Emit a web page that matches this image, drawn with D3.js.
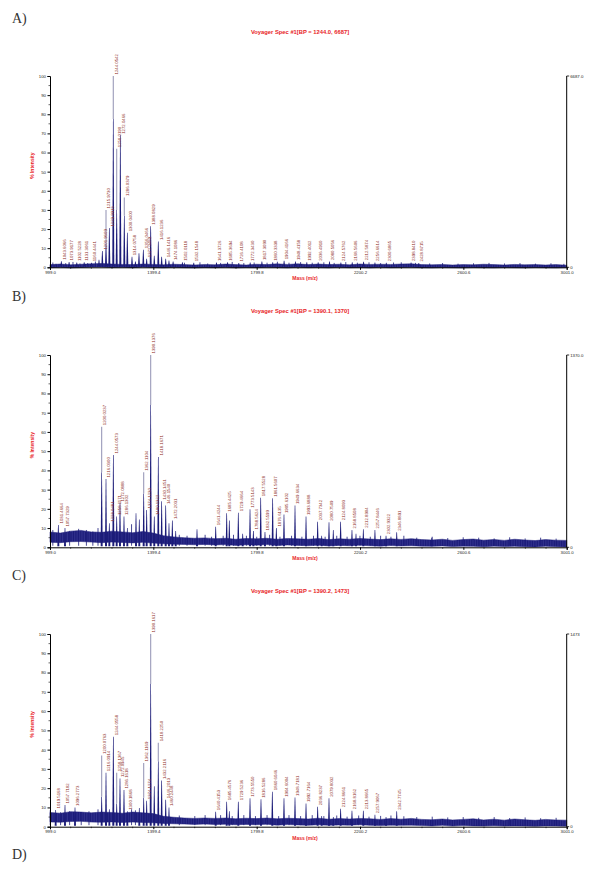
<!DOCTYPE html>
<html><head><meta charset="utf-8">
<script src="https://cdn.jsdelivr.net/npm/d3@7"></script>
<style>body{margin:0;background:#fff}svg{display:block}</style>
</head><body><svg id="c" width="605" height="870"></svg>
<script>
// ---------------- data ----------------
const panelLetters = ["A)", "B)", "C)", "D)"];
const titles = ["Voyager Spec #1[BP = 1244.0, 6687]", "Voyager Spec #1[BP = 1390.1, 1370]", "Voyager Spec #1[BP = 1390.2, 1473]"];
const baseCounts = ["6687.0", "1370.0", "1473"];
const xTickValues = [999.0, 1399.4, 1799.8, 2200.2, 2600.6, 3001.0];
const yTickValues = [0, 10, 20, 30, 40, 50, 60, 70, 80, 90, 100];
const xAxisTitle = "Mass (m/z)";
const yAxisTitle = "% Intensity";

// baseline noise envelope (m/z grid, % intensity)
const noiseMz = [999,1039,1079,1119,1159,1199,1239,1279,1319,1359,1399,1439,1479,1519,1559,1599,1639,1679,1719,1759,1799,1839,1879,1919,1959,1999,2039,2079,2119,2159,2199,2239,2279,2319,2359,2399,2439,2479,2519,2559,2599,2639,2679,2719,2759,2799,2839,2879,2919,2959,3001];
const noiseHiA = [1.4,1.7,1.3,1.6,1.8,2.0,1.7,1.5,1.4,1.7,1.5,1.3,1.6,1.4,1.2,1.5,1.3,1.7,1.4,1.2,1.6,1.4,1.8,1.5,1.8,1.4,1.7,1.4,1.6,1.3,1.7,1.5,1.6,1.5,1.7,1.8,1.4,1.3,1.5,1.2,1.4,1.3,1.6,1.4,1.2,1.5,1.3,1.4,1.2,1.4,1.1];
const noiseLoA = [-0.2,0.0,-0.3,-0.1,0.1,0.2,-0.1,0.0,-0.2,0.1,-0.1,-0.3,0.0,-0.2,-0.3,-0.1,-0.2,0.0,-0.3,-0.1,-0.2,0.0,-0.1,-0.3,0.0,-0.2,-0.1,-0.3,0.0,-0.2,-0.1,-0.3,0.0,-0.2,-0.1,0.0,-0.2,-0.3,-0.1,-0.2,-0.3,-0.1,-0.2,-0.3,-0.1,-0.2,-0.3,-0.1,-0.2,-0.3,-0.1];
const noiseHiB = [8.0,7.4,8.4,8.8,8.0,7.8,8.4,8.0,7.6,8.2,7.4,6.0,5.4,5.0,4.7,4.9,4.5,4.7,4.2,4.6,4.4,4.7,4.2,4.6,4.4,4.2,4.6,4.0,4.4,4.2,4.6,4.3,4.0,4.4,4.1,4.5,4.0,3.8,4.2,3.6,4.0,4.3,3.7,4.1,3.6,4.2,3.8,3.5,4.0,3.7,3.6];
const noiseLoB = [2.6,2.4,2.9,3.0,2.7,2.4,2.7,2.5,2.3,2.6,2.2,1.8,1.6,1.5,1.3,1.5,1.2,1.4,1.0,1.3,1.1,1.4,0.9,1.2,1.0,0.8,1.1,0.7,1.0,0.8,1.1,0.8,0.6,0.9,0.7,0.8,0.6,0.5,0.7,0.4,0.6,0.5,0.3,0.6,0.4,0.5,0.3,0.2,0.5,0.3,0.2];
const noiseHiC = [7.4,7.0,7.8,7.6,7.2,7.6,7.4,7.0,7.6,7.2,6.8,5.4,4.9,4.5,4.3,4.5,4.3,4.5,4.1,4.4,4.2,4.5,4.1,4.4,4.2,4.0,4.4,3.9,4.2,4.0,4.3,4.1,3.8,4.2,3.9,4.3,3.8,3.6,4.0,3.5,3.8,4.1,3.5,3.9,3.4,4.0,3.6,3.3,3.8,3.5,3.4];
const noiseLoC = [2.5,2.3,2.7,2.8,2.4,2.3,2.5,2.2,2.4,2.2,2.0,1.7,1.5,1.4,1.2,1.4,1.1,1.3,1.0,1.2,1.0,1.3,0.8,1.1,0.9,0.7,1.0,0.7,0.9,0.8,1.0,0.7,0.6,0.8,0.7,0.8,0.6,0.4,0.7,0.3,0.6,0.4,0.3,0.5,0.3,0.4,0.3,0.2,0.4,0.3,0.2];

// small baseline spikes (m/z, % intensity)
const spikeMzA = [1010,1022,1060,1088,1115,1145,1175,1520,1580,1610,1660,1705,1750,1790,1840,1880,1925,1970,2015,2060,2100,2145,2190,2235,2280,2330,2360,2415,2470,2520,2580,2640,2700,2760,2820,2880,2940,2990];
const spikeIntA = [2.5,1.8,2.2,2.8,2.0,2.2,3.0,2.4,2.6,2.0,2.3,2.8,2.2,2.5,2.4,2.9,2.4,2.7,2.4,2.6,2.3,2.7,2.4,2.6,2.2,2.5,2.6,2.3,2.0,2.2,1.9,2.1,2.3,2.0,2.2,1.9,2.1,1.8];
const spikeMzB = [1010,1075,1110,1140,1165,1185,1315,1500,1530,1600,1625,1670,1710,1760,1800,1850,1890,1935,1975,2020,2065,2110,2150,2200,2240,2280,2320,2370,2420,2480,2540,2600,2660,2720,2780,2840,2900,2960];
const spikeIntB = [9.0,8.5,9.6,9.0,8.2,10.0,12.0,6.5,6.0,6.5,5.5,6.0,6.5,6.0,5.5,6.5,5.5,6.0,5.5,6.0,5.5,6.0,5.5,6.0,5.5,6.0,5.5,6.0,5.0,5.5,4.8,5.2,5.0,4.6,5.2,4.6,5.0,4.5];
const spikeMzC = [1000,1040,1075,1120,1150,1185,1315,1330,1500,1560,1600,1660,1705,1750,1795,1840,1885,1925,1970,2015,2060,2110,2150,2195,2235,2280,2320,2370,2420,2480,2540,2600,2660,2720,2780,2840,2900,2960];
const spikeIntC = [8.5,7.5,8.0,7.6,8.0,9.0,9.0,8.5,5.8,5.5,6.0,6.0,5.5,6.0,5.5,6.0,5.5,6.0,5.5,6.0,5.5,5.8,5.2,5.8,5.2,5.6,5.8,5.4,5.0,5.2,4.8,5.0,4.6,5.0,4.5,4.8,4.4,4.6];

// Panel A peaks
const peakMzA = [1042.9,1073.0,1102.8,1131.5,1160.0,1188.9,1201.8,1216.0,1228.9,1244.2,1257.4,1271.5,1286.9,1298.6,1316.7,1330.0,1343.8,1360.6,1373.5,1389.1,1403.0,1418.6,1431.6,1447.3,1460.0,1476.0,1512.0,1556.0,1644.0,1687.0,1730.5,1774.6,1820.0,1862.0,1906.0,1950.0,1994.0,2038.0,2082.0,2126.0,2170.0,2214.0,2258.0,2302.0,2398.0,2428.0];
const peakIntA = [3.2,2.8,2.5,2.6,2.4,4.0,8.5,30.0,20.5,100,62.0,69.0,36.5,18.0,5.5,3.0,7.3,9.2,4.5,21.5,6.0,13.5,5.5,4.5,3.5,3.0,2.6,2.4,2.5,2.6,2.2,2.5,3.0,2.6,3.4,3.0,2.6,2.6,3.0,2.5,2.6,2.9,2.5,2.4,2.5,2.2];
const peakLabelA = ["1043.6066","1073.9177","1102.5228","1131.3061","1160.4441","","1201.9609","1215.9730","1229.9913","1244.0542","1258.0190","1272.0466","1286.0379","1300.0400","1314.0758","","","1356.0466","1372.0489","1388.0829","","1416.1236","","1446.1416","","1474.1086","1502.0118","1532.1548","1641.3726","1685.3694","1726.4108","1772.3430","1817.3090","1860.3338","1904.4166","1948.4158","1992.4012","2036.4910","2080.5056","2124.5762","2168.5606","2212.5874","2256.6614","2300.6865","2398.8410","2428.8715"];
const lightMzA = [1216.0, 1244.2, 1257.4, 1286.9];
const lightFromA = [13, 77.5, 30, 27];

// Panel B peaks
const peakMzB = [1031.3,1057.1,1199.2,1216.0,1228.9,1244.4,1257.4,1270.2,1285.7,1298.6,1332.2,1345.0,1362.0,1373.5,1389.1,1403.0,1418.6,1431.6,1447.3,1460.0,1473.0,1486.0,1568.6,1641.0,1683.6,1693.8,1728.6,1745.6,1774.0,1787.0,1815.4,1832.0,1861.7,1876.0,1905.6,1948.3,1991.0,2036.0,2051.6,2080.0,2096.6,2125.0,2169.0,2184.6,2213.0,2258.0,2301.0,2342.4,2478.0];
const peakIntB = [11.6,10.0,62.7,35.5,12.5,48.0,16.0,23.0,16.0,10.0,17.7,14.5,39.0,19.4,100,16.0,47.0,24.0,21.7,12.5,14.0,8.5,9.4,10.7,17.7,14.0,18.0,7.0,19.8,8.5,25.8,8.0,25.5,10.0,17.0,21.7,16.0,13.3,6.0,13.0,9.0,13.3,9.0,7.0,9.4,9.0,6.0,7.8,5.0];
const peakLabelB = ["1031.4664","1057.7329","1200.0237","1216.0300","1228.0481","1244.0573","1258.1171","1272.0888","1286.1302","","","","1362.1104","1374.1230","1390.1376","1400.1322","1418.1671","1430.1451","1446.1540","","1472.2031","","","1641.4244","1685.4425","","1729.4664","","1773.5143","1788.5624","1817.5528","1832.5599","1861.5607","1876.6135","1905.6102","1949.6634","1993.6888","2037.7342","","2080.7509","","2124.8093","2168.8508","","2212.8904","2257.8446","2302.9322","2346.8891",""];
const lightMzB = [1199.2, 1362.0, 1389.1];
const lightFromB = [39, 28, 74];

// Panel C peaks
const peakMzC = [1021.0,1057.1,1095.9,1199.2,1216.0,1228.9,1244.4,1257.4,1270.2,1285.7,1298.6,1345.0,1362.0,1373.5,1389.1,1403.0,1418.6,1431.6,1447.3,1460.0,1641.0,1683.6,1693.8,1728.6,1774.0,1816.5,1860.4,1905.6,1948.3,1991.0,2036.0,2051.6,2080.0,2096.6,2125.0,2169.0,2213.0,2258.0,2301.0,2342.4];
const peakIntC = [8.7,11.2,10.0,37.0,28.0,9.0,46.7,28.0,25.0,19.0,8.0,9.7,33.0,13.5,100,21.0,43.6,24.0,14.0,10.0,7.8,13.0,8.0,13.0,14.7,14.2,18.2,14.7,15.2,12.0,10.3,5.5,14.7,5.0,9.3,8.3,8.3,6.2,5.0,8.0];
const peakLabelC = ["1019.5168","1057.7182","1096.2773","1200.0763","1216.0914","","1244.0558","1258.1367","1272.0945","1286.1618","1300.1868","","1362.1169","1374.1274","1390.1617","","1418.2250","1432.2116","1446.2013","1460.2448","1640.4153","1685.4576","","1729.5236","1773.5550","1816.5286","1860.6046","1904.6004","1948.7181","1992.7164","2036.8237","","2079.8032","","2124.8661","2168.8162","2213.8665","2257.9067","","2342.7745"];
const lightMzC = [1199.2, 1257.4, 1362.0, 1389.1, 1418.6];
const lightFromC = [15.6, 12, 15, 74, 34];

// ---------------- drawing ----------------
const svg = d3.select("#c");
const FONT = "'Liberation Sans', Arial, sans-serif";
const RED = "#e8231f";
const LABEL = "#8c2a22";
const NAVY = "#1b1b78";
const LIGHT = "#9a9ab9";

// texture for the noise band
const defs = svg.append("defs");
const pat = defs.append("pattern").attr("id", "noiseTex").attr("patternUnits", "userSpaceOnUse")
  .attr("width", 1.7).attr("height", 3);
pat.append("rect").attr("width", 1.7).attr("height", 3).attr("fill", "#3a3a96");
pat.append("rect").attr("width", 1.1).attr("height", 3).attr("fill", NAVY);

const x = d3.scaleLinear().domain([999.0, 3001.0]).range([50, 566.7]);

const layout = [
  {top: 76, bottom: 267.3, titleY: 34,
   hi: noiseHiA, lo: noiseLoA, smz: spikeMzA, sit: spikeIntA, mz: peakMzA, it: peakIntA, lab: peakLabelA, lmz: lightMzA, lfrom: lightFromA},
  {top: 355, bottom: 547.3, titleY: 313,
   hi: noiseHiB, lo: noiseLoB, smz: spikeMzB, sit: spikeIntB, mz: peakMzB, it: peakIntB, lab: peakLabelB, lmz: lightMzB, lfrom: lightFromB},
  {top: 634, bottom: 826.7, titleY: 593,
   hi: noiseHiC, lo: noiseLoC, smz: spikeMzC, sit: spikeIntC, mz: peakMzC, it: peakIntC, lab: peakLabelC, lmz: lightMzC, lfrom: lightFromC}
];
const letterYs = [23, 301, 580, 859];

panelLetters.forEach((t, i) => {
  svg.append("text").attr("x", 12).attr("y", letterYs[i])
    .attr("font-family", "'Liberation Serif', 'DejaVu Serif', serif")
    .attr("font-size", 14).attr("fill", "#333").text(t);
});

layout.forEach((p, pi) => {
  const y = d3.scaleLinear().domain([0, 100]).range([p.bottom, p.top]);
  const g = svg.append("g");

  // title
  g.append("text").attr("x", 300).attr("y", p.titleY).attr("text-anchor", "middle")
    .attr("font-family", FONT).attr("font-size", 5.8).attr("font-weight", "bold")
    .attr("fill", RED).text(titles[pi]);

  // y axis title
  g.append("text").attr("transform", `translate(34,${(p.top + p.bottom) / 2 - 6}) rotate(-90)`)
    .attr("text-anchor", "middle").attr("font-family", FONT).attr("font-size", 5)
    .attr("font-weight", "bold").attr("fill", RED).text(yAxisTitle);

  // x axis title
  g.append("text").attr("x", 305).attr("y", p.bottom + 13).attr("text-anchor", "middle")
    .attr("font-family", FONT).attr("font-size", 5).attr("font-weight", "bold")
    .attr("fill", RED).text(xAxisTitle);

  // noise band
  const band = noiseMz.map((m, i) => ({m, hi: p.hi[i], lo: p.lo[i]}));
  g.append("path").datum(band)
    .attr("d", d3.area().x(d => x(d.m)).y0(d => y(d.lo)).y1(d => y(d.hi)))
    .attr("fill", "url(#noiseTex)").attr("stroke", NAVY).attr("stroke-width", 0.5);

  // baseline spikes
  const spikes = p.smz.map((m, i) => ({m, v: p.sit[i]}));
  g.append("g").selectAll("line").data(spikes).join("line")
    .attr("x1", d => x(d.m)).attr("x2", d => x(d.m))
    .attr("y1", y(0.8)).attr("y2", d => y(d.v))
    .attr("stroke", NAVY).attr("stroke-width", 0.8);

  // peaks
  const peaks = p.mz.map((m, i) => {
    const li = p.lmz.indexOf(m);
    return {m, v: p.it[i], lab: p.lab[i], light: li >= 0 ? p.lfrom[li] : null};
  });
  const pg = g.append("g");
  pg.selectAll("path.pk").data(peaks).join("path").attr("class", "pk")
    .attr("d", d => {
      const top = d.light != null ? d.light : d.v;
      const cx = x(d.m), b = y(0.5), t = y(top);
      return `M${cx - 1.0},${b}L${cx - 0.3},${t}L${cx + 0.3},${t}L${cx + 1.0},${b}Z`;
    })
    .attr("fill", NAVY);
  pg.selectAll("line.lt").data(peaks.filter(d => d.light != null)).join("line").attr("class", "lt")
    .attr("x1", d => x(d.m)).attr("x2", d => x(d.m))
    .attr("y1", d => y(d.light)).attr("y2", d => y(d.v))
    .attr("stroke", LIGHT).attr("stroke-width", 1.1);

  // peak labels
  pg.selectAll("text.pl").data(peaks.filter(d => d.lab)).join("text").attr("class", "pl")
    .attr("transform", d => `translate(${x(d.m) + 4.3},${y(d.v) - 1.5}) rotate(-90)`)
    .attr("font-family", FONT).attr("font-size", 4.3).attr("fill", LABEL)
    .text(d => d.lab);

  // left axis
  const ya = g.append("g").attr("transform", "translate(50,0)")
    .call(d3.axisLeft(y).tickValues(yTickValues).tickSize(2.5).tickPadding(1.5).tickFormat(d3.format("d")));
  ya.select(".domain").attr("stroke", "#000").attr("stroke-width", 1);
  ya.selectAll("text").attr("font-family", FONT).attr("font-size", 4.3).attr("fill", "#222");
  const yMinor = d3.range(5, 100, 10);
  g.append("g").selectAll("line").data(yMinor).join("line")
    .attr("x1", 48.5).attr("x2", 50).attr("y1", d => y(d)).attr("y2", d => y(d)).attr("stroke", "#000").attr("stroke-width", 0.6);

  // bottom axis
  const xa = g.append("g").attr("transform", `translate(0,${p.bottom})`)
    .call(d3.axisBottom(x).tickValues(xTickValues).tickSize(2.5).tickPadding(1).tickFormat(d3.format(".1f")));
  xa.select(".domain").attr("stroke", "#000").attr("stroke-width", 1);
  xa.selectAll("text").attr("font-family", FONT).attr("font-size", 4.3).attr("fill", "#222");
  const xMinor = [];
  for (let k = 0; k < xTickValues.length - 1; k++) {
    const a = xTickValues[k], s = (xTickValues[k + 1] - a) / 5;
    for (let j = 1; j < 5; j++) xMinor.push(a + s * j);
  }
  g.append("g").selectAll("line").data(xMinor).join("line")
    .attr("x1", d => x(d)).attr("x2", d => x(d)).attr("y1", p.bottom).attr("y2", p.bottom + 1.5)
    .attr("stroke", "#000").attr("stroke-width", 0.6);

  // right axis
  const rx = x(3001.0);
  g.append("line").attr("x1", rx).attr("x2", rx).attr("y1", y(100)).attr("y2", y(0)).attr("stroke", "#000").attr("stroke-width", 1);
  g.append("line").attr("x1", rx).attr("x2", rx + 2.5).attr("y1", y(100)).attr("y2", y(100)).attr("stroke", "#000").attr("stroke-width", 0.8);
  g.append("line").attr("x1", rx).attr("x2", rx + 2.5).attr("y1", y(0)).attr("y2", y(0)).attr("stroke", "#000").attr("stroke-width", 0.8);
  g.append("text").attr("x", rx + 3.5).attr("y", y(100) + 1.5).attr("font-family", FONT).attr("font-size", 4.3).attr("fill", "#222").text(baseCounts[pi]);
  g.append("text").attr("x", rx + 3.5).attr("y", y(0) + 1.5).attr("font-family", FONT).attr("font-size", 4.3).attr("fill", "#222").text("0");
});
</script>
</body></html>
